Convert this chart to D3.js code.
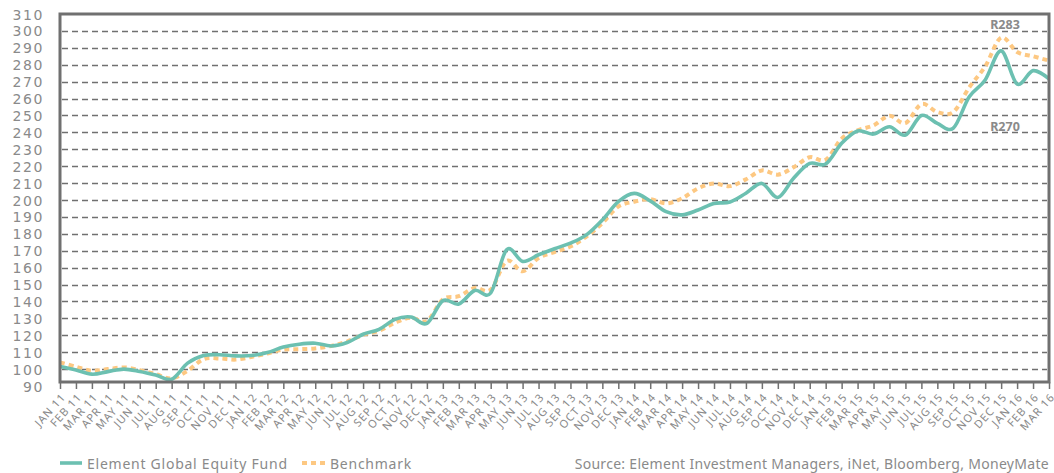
<!DOCTYPE html>
<html>
<head>
<meta charset="utf-8">
<script src="https://cdn.jsdelivr.net/npm/d3@7"></script>
<style>
  html, body { margin: 0; padding: 0; background: #ffffff; }
  svg { display: block; }
  text { font-family: "Noto Sans", "DejaVu Sans", sans-serif; fill: #8a8a8a; }
</style>
</head>
<body>
<svg id="chart" width="1054" height="473"></svg>
<script>
// ---- data ----
const months = ["JAN 11","FEB 11","MAR 11","APR 11","MAY 11","JUN 11","JUL 11","AUG 11","SEP 11","OCT 11","NOV 11","DEC 11",
  "JAN 12","FEB 12","MAR 12","APR 12","MAY 12","JUN 12","JUL 12","AUG 12","SEP 12","OCT 12","NOV 12","DEC 12",
  "JAN 13","FEB 13","MAR 13","APR 13","MAY 13","JUN 13","JUL 13","AUG 13","SEP 13","OCT 13","NOV 13","DEC 13",
  "JAN 14","FEB 14","MAR 14","APR 14","MAY 14","JUN 14","JUL 14","AUG 14","SEP 14","OCT 14","NOV 14","DEC 14",
  "JAN 15","FEB 15","MAR 15","APR 15","MAY 15","JUN 15","JUL 15","AUG 15","SEP 15","OCT 15","NOV 15","DEC 15",
  "JAN 16","FEB 16","MAR 16"];

const fundValues = [101.5,99.5,97,98.5,100,98.6,96.5,94,103.5,108,108.5,107.8,
  108,109.8,113,114.7,115.3,113.7,115.7,120.6,123.5,129.4,130.8,127,
  140.5,138.5,146.5,145,170.6,163.7,167.6,171.2,174.5,179.4,188.2,199,
  203.9,199.5,193.1,191.2,194.1,198,198.8,204,209.8,201.5,213,221.6,
  221.3,233.5,240.8,239,243.3,238.4,250,245.3,242.5,261,271,288.2,
  268.6,276.5,271.6];

const benchmarkValues = [104,101.4,99,100,101,99.4,97,94.5,99,105.9,106.3,105.6,
  107.2,109.2,111.5,111.8,112.2,113.7,116.3,120.2,122.6,127.4,130.4,128.4,
  141.2,143.1,148,147,164,157.8,165.7,169.2,172.5,178.4,186.3,196.1,
  199,200.5,198,201,206.9,209.8,208.2,212.2,217.5,215,219.4,225.3,
  223.8,236.3,241.2,244.1,249.8,245.5,256.7,252,252,266.6,279,296,
  287.5,285,282.4];

const yTicks = [90,100,110,120,130,140,150,160,170,180,190,200,210,220,230,240,250,260,270,280,290,300,310];
const gridValues = [100,110,120,130,140,150,160,170,180,190,200,210,220,230,240,250,260,270,280,290,300];

const seriesNames = ["Element Global Equity Fund", "Benchmark"];
const endLabels = ["R283", "R270"];
const sourceText = "Source: Element Investment Managers, iNet, Bloomberg, MoneyMate";

// ---- layout ----
const svg = d3.select("#chart");
const plotLeft = 60, plotRight = 1049, plotTop = 14, axisY = 382;

const x = d3.scalePoint().domain(months).range([plotLeft, plotRight]);
const y = d3.scaleLinear().domain([90, 310]).range([386, 14]);

// gridlines
svg.append("g").selectAll("line").data(gridValues).join("line")
  .attr("x1", plotLeft + 2).attr("x2", plotRight - 2)
  .attr("y1", d => Math.round(y(d)) + 0.5).attr("y2", d => Math.round(y(d)) + 0.5)
  .attr("stroke", "#707070").attr("stroke-width", 1.3)
  .attr("stroke-dasharray", "6,4");

// y axis labels
const yAxis = svg.append("g").attr("transform", `translate(${plotLeft - 16},0)`)
  .call(d3.axisLeft(y).tickValues(yTicks).tickSize(0).tickPadding(0));
yAxis.select(".domain").remove();
yAxis.selectAll("text")
  .style("font-family", "'DejaVu Sans', sans-serif")
  .style("font-size", "14px").style("letter-spacing", "1.6px")
  .attr("fill", "#8a8a8a").attr("dy", "0.36em");

// x axis
const xAxis = svg.append("g").attr("transform", `translate(0,${axisY})`)
  .call(d3.axisBottom(x).tickSize(7).tickPadding(0));
xAxis.select(".domain").remove();
xAxis.selectAll(".tick line").attr("stroke", "#707070").attr("stroke-width", 1.5);
xAxis.selectAll("text")
  .attr("x", 0).attr("y", 0).attr("dy", "0.35em")
  .attr("text-anchor", "end")
  .attr("transform", "translate(3,13) rotate(-48)")
  .style("font-size", "11px").style("letter-spacing", "1px")
  .attr("fill", "#8a8a8a");

// series lines
const line = d3.line()
  .x((d, i) => x(months[i]))
  .y(d => y(d))
  .curve(d3.curveCardinal.tension(0));

svg.append("path").datum(benchmarkValues)
  .attr("d", line).attr("fill", "none")
  .attr("stroke", "#fdc882").attr("stroke-width", 4)
  .attr("stroke-dasharray", "5,4");

svg.append("path").datum(fundValues)
  .attr("d", line).attr("fill", "none")
  .attr("stroke", "#6cc0b1").attr("stroke-width", 3.6)
  .attr("stroke-linejoin", "round");

// frame
svg.append("rect")
  .attr("x", plotLeft).attr("y", plotTop)
  .attr("width", plotRight - plotLeft).attr("height", axisY - plotTop)
  .attr("fill", "none").attr("stroke", "#707070").attr("stroke-width", 3);

// end labels
svg.append("text").attr("x", 1005).attr("y", 29).attr("text-anchor", "middle")
  .style("font-size", "12.5px").style("font-weight", "bold").attr("fill", "#6d6d6d")
  .text(endLabels[0]);
svg.append("text").attr("x", 1005).attr("y", 131).attr("text-anchor", "middle")
  .style("font-size", "12.5px").style("font-weight", "bold").attr("fill", "#6d6d6d")
  .text(endLabels[1]);

// legend
const lg = svg.append("g");
lg.append("line").attr("x1", 60).attr("x2", 82).attr("y1", 463).attr("y2", 463)
  .attr("stroke", "#6cc0b1").attr("stroke-width", 3.6);
lg.append("text").attr("x", 87).attr("y", 468.5)
  .style("font-size", "14px").style("letter-spacing", "0.75px")
  .text(seriesNames[0]);
lg.append("line").attr("x1", 302).attr("x2", 326).attr("y1", 463).attr("y2", 463)
  .attr("stroke", "#fdc882").attr("stroke-width", 4).attr("stroke-dasharray", "5,4");
lg.append("text").attr("x", 330).attr("y", 468.5)
  .style("font-size", "14px").style("letter-spacing", "0.75px")
  .text(seriesNames[1]);
lg.append("text").attr("x", 1049).attr("y", 468.5).attr("text-anchor", "end")
  .style("font-size", "14px").style("letter-spacing", "0.3px")
  .text(sourceText);
</script>
</body>
</html>
